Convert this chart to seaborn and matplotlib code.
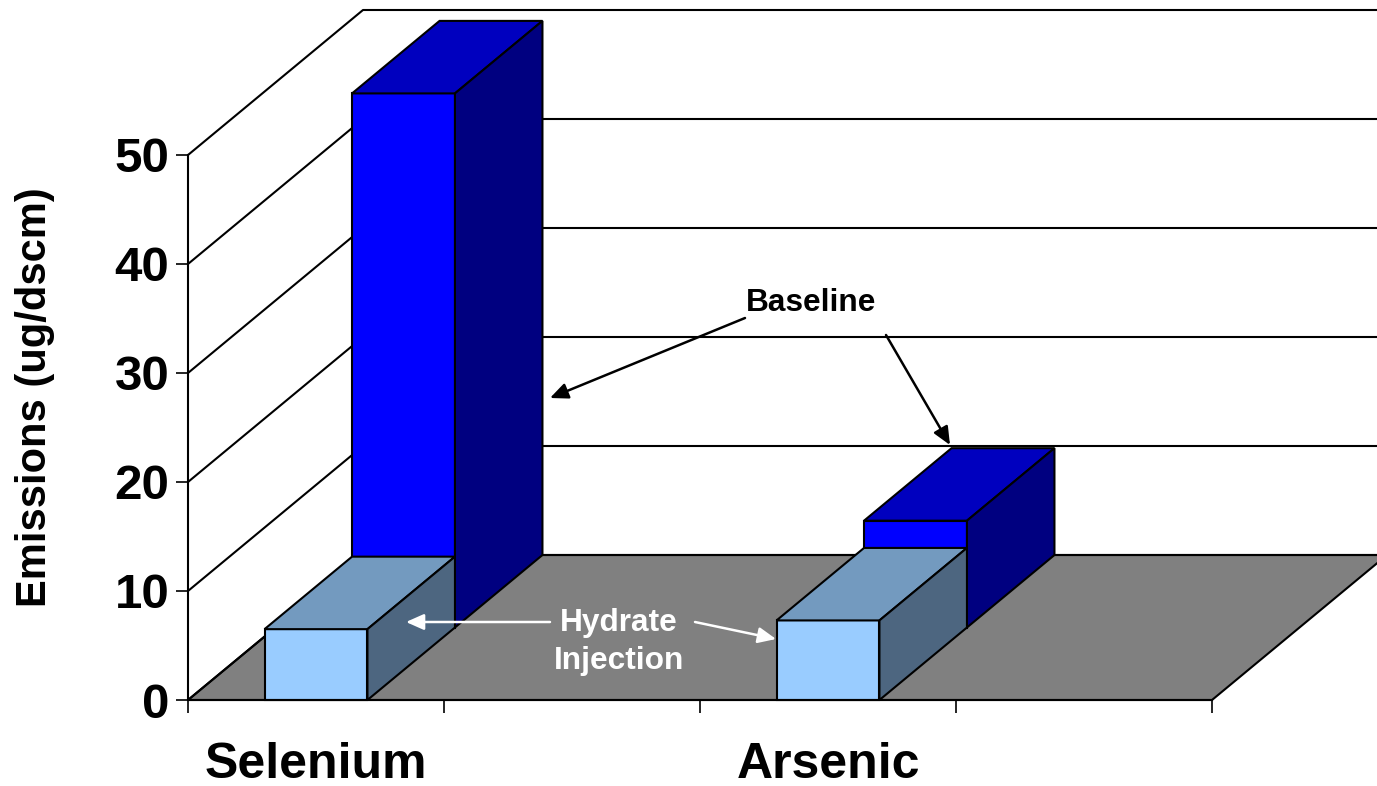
import numpy as np
import pandas as pd
import matplotlib
matplotlib.use("Agg")
import matplotlib.pyplot as plt
from matplotlib.patches import Polygon
from matplotlib.transforms import Affine2D
import seaborn as sns

# ---- data ----
categories = ["Selenium", " ", "Arsenic", "  "]
plotted = ["Selenium", "Arsenic"]
baseline_values = [49.0, 9.8]
hydrate_values = [6.5, 7.3]
y_ticks = [0, 10, 20, 30, 40, 50]

sns.set_theme(style="white")
plt.rcParams["font.family"] = ["Liberation Sans", "DejaVu Sans"]
plt.rcParams["font.weight"] = "bold"

W, H = 1377, 786
fig = plt.figure(figsize=(W / 100, H / 100), dpi=100)
ax = fig.add_axes([0, 0, 1, 1])
ax.patch.set_alpha(0)

# scales: pixels per category cell / per unit
CELL, UNIT = 256.0, 10.9
X0, Y0 = 316.0, 700.0
BAR_W = 0.402
DEPTH_X, DEPTH_Y = 175.0 / CELL, 145.0 / UNIT  # whole floor depth
ROW_X, ROW_Y = DEPTH_X / 2, DEPTH_Y / 2        # one row of bars
LEFT, RIGHT = -0.5, 3.5


def px(x, y):
    return (x - X0) / CELL, (Y0 - y) / UNIT


EDGE = "black"
LW = 1.5

# floor and walls
floor = [(LEFT, 0), (RIGHT, 0), (RIGHT + DEPTH_X, DEPTH_Y), (LEFT + DEPTH_X, DEPTH_Y)]
ax.add_patch(Polygon(floor, closed=True, fc="#808080", ec=EDGE, lw=LW, zorder=1))
for v in y_ticks:
    ax.plot([LEFT, LEFT + DEPTH_X, RIGHT + 2], [v, v + DEPTH_Y, v + DEPTH_Y],
            color=EDGE, lw=LW, zorder=1.5, solid_capstyle="butt")


def draw_row(values, front, top, side, row, z):
    df = pd.DataFrame({"cat": plotted, "val": values})
    before = len(ax.patches)
    sns.barplot(df, x="cat", y="val", order=categories, color=front, saturation=1,
                width=BAR_W, edgecolor=EDGE, linewidth=LW, errorbar=None, ax=ax, zorder=z)
    sx, sy = ROW_X * row, ROW_Y * row
    for p in ax.patches[before:]:
        h = p.get_height()
        if not np.isfinite(h) or h == 0:
            continue
        p.set_transform(Affine2D().translate(sx, sy) + ax.transData)
        x0, x1 = p.get_x() + sx, p.get_x() + p.get_width() + sx
        y0, y1 = sy, h + sy
        ax.add_patch(Polygon([(x0, y1), (x1, y1), (x1 + ROW_X, y1 + ROW_Y), (x0 + ROW_X, y1 + ROW_Y)],
                             closed=True, fc=top, ec=EDGE, lw=LW, zorder=z))
        ax.add_patch(Polygon([(x1, y0), (x1 + ROW_X, y0 + ROW_Y), (x1 + ROW_X, y1 + ROW_Y), (x1, y1)],
                             closed=True, fc=side, ec=EDGE, lw=LW, zorder=z))


draw_row(baseline_values, "#0000FF", "#0000BF", "#000080", 1, 3)
draw_row(hydrate_values, "#99CCFF", "#739ABF", "#4D6680", 0, 4)

ax.set_xlim((0 - X0) / CELL, (W - X0) / CELL)
ax.set_ylim((Y0 - H) / UNIT, Y0 / UNIT)

# axes
for s in ["top", "right"]:
    ax.spines[s].set_visible(False)
ax.spines["left"].set_position(("data", LEFT))
ax.spines["left"].set_bounds(0, 50)
ax.spines["bottom"].set_position(("data", 0))
ax.spines["bottom"].set_bounds(LEFT, RIGHT)
for s in ["left", "bottom"]:
    ax.spines[s].set_color(EDGE)
    ax.spines[s].set_linewidth(LW)
    ax.spines[s].set_zorder(5)

ax.set_yticks(y_ticks)
ax.set_yticklabels([str(v) for v in y_ticks], fontsize=35.5, fontweight="bold", color="black")
ax.tick_params(axis="y", left=True, length=9, width=1.2, color=EDGE, pad=4.5)
ax.set_xticks(range(len(categories)))
ax.set_xticklabels(categories, fontsize=36, fontweight="bold", color="black")
ax.tick_params(axis="x", which="major", bottom=False, length=0, pad=30)
ax.set_xticks(np.arange(LEFT, RIGHT + 1), minor=True)
ax.tick_params(axis="x", which="minor", bottom=True, length=9, width=1.2, color=EDGE)
ax.set_xlabel("")
ax.set_ylabel("")

ax.text(*px(35, 397), "Emissions (ug/dscm)", rotation=90, ha="center", va="center",
        fontsize=30, fontweight="bold", color="black")

# annotations
ax.text(*px(811, 303), "Baseline", ha="center", va="center", fontsize=22.8,
        fontweight="bold", color="black", zorder=6)
ax.text(*px(619, 623), "Hydrate", ha="center", va="center", fontsize=22.8,
        fontweight="bold", color="white", zorder=6)
ax.text(*px(619, 661), "Injection", ha="center", va="center", fontsize=22.8,
        fontweight="bold", color="white", zorder=6)


def arrow(start, end, color):
    ax.annotate("", xy=px(*end), xytext=px(*start), zorder=6,
                arrowprops=dict(arrowstyle="-|>,head_length=0.9,head_width=0.4", color=color,
                                lw=1.8, shrinkA=0, shrinkB=0))


arrow((745, 318), (550, 398), "black")
arrow((886, 335), (950, 445), "black")
arrow((550, 622), (406, 622), "white")
arrow((695, 622), (776, 639), "white")

fig.savefig("out.png", dpi=100, facecolor="white")
